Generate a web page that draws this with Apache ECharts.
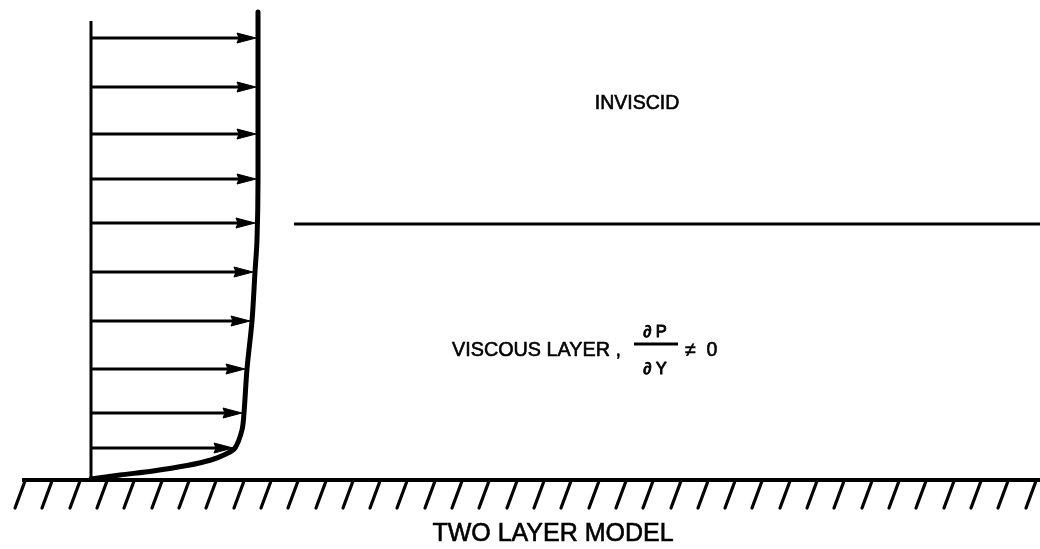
<!DOCTYPE html>
<html>
<head>
<meta charset="utf-8">
<script src="https://cdn.jsdelivr.net/npm/echarts@6/dist/echarts.min.js"></script>
<style>
html,body{margin:0;padding:0;background:#fff;}
#chart{width:1040px;height:549px;}
</style>
</head>
<body>
<div id="chart"></div>
<script>
// Velocity profile: heights above the wall and velocity at each arrow
const arrowHeights    = [442, 393, 346, 301, 257, 208, 159, 111, 67, 32];
const arrowVelocities = [167, 167, 167, 167, 166, 164, 161, 156, 153, 144];
// Profile curve u(h)
const profileU = [167, 167, 166, 164, 161, 156, 153, 151, 144, 135, 120, 96, 62, 29, 0];
const profileH = [468, 300, 240, 208, 159, 111, 67, 50, 32, 26, 20, 14.5, 9, 5, 1];
// Wall-normal reference line (u = 0)
const wallTop = 459;
// Edge of the viscous layer
const layerEdgeH = 256;
const layerEdgeFromU = 203;
// Ground hatch positions (u at hatch foot)
const hatchU = [-76, -49, -21, 6, 33, 61, 88, 115, 143, 170, 197, 225, 252, 279, 306, 334, 361, 388, 416, 443, 470, 498, 525, 552, 580, 607, 634, 661, 689, 716, 743, 771, 798, 825, 853, 880, 907, 935];
// Labels
const labelInviscid = 'INVISCID';
const labelViscous = 'VISCOUS LAYER ,';
const labelNum = '\u2202 P';
const labelDen = '\u2202 Y';
const labelNe = '\u2260  0';
const labelTitle = 'TWO LAYER MODEL';

const X_MIN = -91, X_MAX = 949, Y_MIN = -69, Y_MAX = 480;
const FONT = '"Liberation Sans", Arial, Helvetica, sans-serif';

const chart = echarts.init(document.getElementById('chart'), null, {renderer: 'canvas'});

const arrowData = arrowHeights.map((h, i) => [arrowVelocities[i], h]);

function txt(x, y, text, size, align, lw) {
  return {type: 'text', x: x, y: y, style: {text: text, font: size + 'px ' + FONT, fill: '#000',
    stroke: '#000', lineWidth: lw || 0.6, align: align, verticalAlign: 'middle'}};
}

const option = {
  animation: false,
  backgroundColor: '#fff',
  grid: {left: 0, right: 0, top: 0, bottom: 0},
  xAxis: {type: 'value', min: X_MIN, max: X_MAX, show: false},
  yAxis: {type: 'value', min: Y_MIN, max: Y_MAX, show: false},
  series: [
    // ground line
    {
      type: 'line', data: [[X_MIN + 22, 0], [X_MAX, 0]], symbol: 'none',
      lineStyle: {color: '#000', width: 4}, silent: true, z: 3
    },
    // ground hatches
    {
      type: 'custom', data: hatchU.map(u => [u, 0]), silent: true, z: 3,
      renderItem: function (params, api) {
        const u = api.value(0);
        const p0 = api.coord([u, -28]);
        const p1 = api.coord([u + 10, -1]);
        return {type: 'line', shape: {x1: p0[0], y1: p0[1], x2: p1[0], y2: p1[1]},
          style: {stroke: '#000', lineWidth: 3.2, lineCap: 'round'}};
      }
    },
    // wall normal line
    {
      type: 'line', data: [[0, 0], [0, wallTop]], symbol: 'none',
      lineStyle: {color: '#000', width: 3}, silent: true, z: 4
    },
    // viscous layer edge
    {
      type: 'line', data: [[layerEdgeFromU, layerEdgeH], [X_MAX, layerEdgeH]], symbol: 'none',
      lineStyle: {color: '#000', width: 3}, silent: true, z: 3
    },
    // arrows
    {
      type: 'custom', data: arrowData, silent: true, z: 5,
      renderItem: function (params, api) {
        const u = api.value(0), h = api.value(1);
        const p0 = api.coord([0, h]);
        const p1 = api.coord([u, h]);
        const tip = p1[0] - 2;
        const base = tip - 19;
        return {type: 'group', children: [
          {type: 'line', shape: {x1: p0[0], y1: p0[1], x2: base + 3, y2: p1[1]},
            style: {stroke: '#000', lineWidth: 3.2}},
          {type: 'polygon', shape: {points: [[tip, p1[1]], [base, p1[1] - 5], [base + 2, p1[1]], [base, p1[1] + 5]]},
            style: {fill: '#000', stroke: '#000', lineWidth: 1}}
        ]};
      }
    },
    // profile curve
    {
      type: 'line', data: profileU.map((u, i) => [u, profileH[i]]), symbol: 'none',
      smooth: 0.3, lineStyle: {color: '#000', width: 5, cap: 'round'}, silent: true, z: 6
    }
  ],
  graphic: [
    txt(637, 104, labelInviscid, 19.5, 'center'),
    txt(452, 351, labelViscous, 19.8, 'left'),
    txt(655, 332, labelNum, 16.5, 'center', 0.9),
    {type: 'line', shape: {x1: 634, y1: 344, x2: 678, y2: 344}, style: {stroke: '#000', lineWidth: 3}},
    txt(655, 369, labelDen, 16.5, 'center', 0.9),
    txt(685, 351, labelNe, 19.5, 'left'),
    txt(553, 534, labelTitle, 25, 'center')
  ]
};
chart.setOption(option);
</script>
</body>
</html>
